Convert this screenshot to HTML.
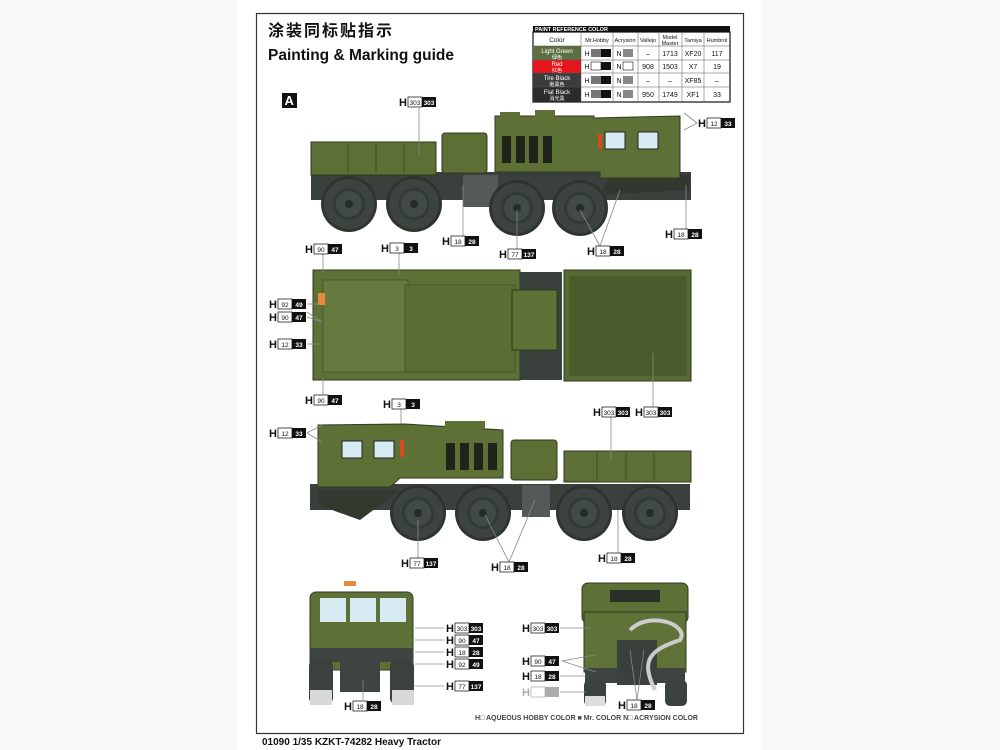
<!DOCTYPE html>
<html><head><meta charset="utf-8"><style>
html,body{margin:0;padding:0;background:#f8f8f7;}
svg{display:block;font-family:"Liberation Sans","Noto Sans CJK SC",sans-serif;}
</style></head><body>
<svg width="1000" height="750" viewBox="0 0 1000 750" xmlns="http://www.w3.org/2000/svg">
<defs>
<g id="wheel"><circle r="28" fill="#2f3430"/><circle r="25" fill="#3d433e"/><circle r="16" fill="#333a36"/><circle r="13" fill="#414a45"/><circle r="4" fill="#262b28"/></g>
<g id="lbl"><text x="0" y="4" font-size="11" font-weight="bold" fill="#111">H</text><rect x="9" y="-5" width="14" height="10" fill="#fff" stroke="#222" stroke-width="0.8"/><rect x="23" y="-5" width="14" height="10" fill="#111"/></g>
</defs>
<rect x="237" y="0" width="525" height="750" fill="#fff"/>
<rect x="256.5" y="13.5" width="487" height="720" fill="none" stroke="#333" stroke-width="1.2"/>
<text x="268" y="36" font-size="16" font-weight="bold" fill="#111" letter-spacing="2">涂装同标贴指示</text>
<text x="268" y="60" font-size="15.5" font-weight="bold" fill="#111">Painting &amp; Marking guide</text>
<rect x="282" y="93" width="15" height="15" fill="#111"/><text x="284.5" y="105" font-size="13" font-weight="bold" fill="#fff">A</text>

<!-- table -->
<g font-size="6.5" text-anchor="middle" fill="#111">
<rect x="533" y="26" width="197" height="6" fill="#111"/><text x="535" y="31" text-anchor="start" font-size="5.5" fill="#fff" font-weight="bold">PAINT  REFERENCE COLOR</text>
<rect x="533" y="32" width="197" height="70" fill="#fff" stroke="#111" stroke-width="1.2"/>
<rect x="533" y="46" width="48" height="14" fill="#5f7040"/><rect x="533" y="60" width="48" height="13" fill="#e8151c"/><rect x="533" y="73" width="48" height="14" fill="#3c3c3c"/><rect x="533" y="87" width="48" height="15" fill="#2c2c2c"/>
<g stroke="#555" stroke-width="0.5"><line x1="581" y1="32" x2="581" y2="102"/><line x1="613" y1="32" x2="613" y2="102"/><line x1="638" y1="32" x2="638" y2="102"/><line x1="659" y1="32" x2="659" y2="102"/><line x1="682" y1="32" x2="682" y2="102"/><line x1="704" y1="32" x2="704" y2="102"/><line x1="533" y1="46" x2="730" y2="46"/><line x1="533" y1="60" x2="730" y2="60"/><line x1="533" y1="73" x2="730" y2="73"/><line x1="533" y1="87" x2="730" y2="87"/></g>
<text x="557" y="42">Color</text><text x="597" y="42" font-size="5.5">Mr.Hobby</text><text x="625" y="42" font-size="5.5">Acrysion</text><text x="648" y="42" font-size="5.5">Vallejo</text><text x="670" y="39" font-size="5.5">Model</text><text x="670" y="45" font-size="5.5">Master</text><text x="693" y="42" font-size="5.5">Tamiya</text><text x="717" y="42" font-size="5.5">Humbrol</text>
<g fill="#fff" font-size="6"><text x="557" y="53">Light Green</text><text x="557" y="59" font-size="5">绿色</text><text x="557" y="66">Red</text><text x="557" y="72" font-size="5">红色</text><text x="557" y="80">Tire Black</text><text x="557" y="86" font-size="5">胎黑色</text><text x="557" y="94">Flat Black</text><text x="557" y="100" font-size="5">消光黑</text></g>
<g font-size="7"><text x="648" y="56">–</text><text x="670" y="56">1713</text><text x="693" y="56">XF20</text><text x="717" y="56">117</text>
<text x="648" y="69">908</text><text x="670" y="69">1503</text><text x="693" y="69">X7</text><text x="717" y="69">19</text>
<text x="648" y="83">–</text><text x="670" y="83">–</text><text x="693" y="83">XF85</text><text x="717" y="83">–</text>
<text x="648" y="97">950</text><text x="670" y="97">1749</text><text x="693" y="97">XF1</text><text x="717" y="97">33</text>
<text x="587" y="56">H</text><text x="587" y="69">H</text><text x="587" y="83">H</text><text x="587" y="97">H</text>
<text x="619" y="56">N</text><text x="619" y="69">N</text><text x="619" y="83">N</text><text x="619" y="97">N</text></g>
<g><rect x="591" y="49" width="10" height="8" fill="#777"/><rect x="601" y="49" width="10" height="8" fill="#111"/><rect x="591" y="62" width="10" height="8" fill="#fff" stroke="#111" stroke-width=".6"/><rect x="601" y="62" width="10" height="8" fill="#111"/><rect x="591" y="76" width="10" height="8" fill="#777"/><rect x="601" y="76" width="10" height="8" fill="#111"/><rect x="591" y="90" width="10" height="8" fill="#777"/><rect x="601" y="90" width="10" height="8" fill="#111"/>
<rect x="623" y="49" width="10" height="8" fill="#888"/><rect x="623" y="62" width="10" height="8" fill="#fff" stroke="#111" stroke-width=".6"/><rect x="623" y="76" width="10" height="8" fill="#888"/><rect x="623" y="90" width="10" height="8" fill="#888"/></g>
</g>

<!-- side view 1 -->
<g>
<rect x="311" y="172" width="380" height="28" fill="#3a403c"/>
<polygon points="600,195 690,190 690,175 610,175" fill="#32382f"/>
<rect x="311" y="142" width="125" height="33" fill="#5c7036" stroke="#2e3a1c" stroke-width="1"/>
<g stroke="#3e4d25" stroke-width="1"><line x1="348" y1="144" x2="348" y2="172"/><line x1="376" y1="144" x2="376" y2="172"/><line x1="404" y1="144" x2="404" y2="172"/></g>
<rect x="442" y="133" width="45" height="40" rx="3" fill="#5c7036" stroke="#2e3a1c"/>
<rect x="463" y="175" width="35" height="32" fill="#545a5a"/>
<polygon points="495,116 594,116 594,118 680,116 680,178 600,178 600,172 495,172" fill="#5d7137" stroke="#2e3a1c"/>
<rect x="500" y="112" width="20" height="6" fill="#5d7137"/><rect x="535" y="110" width="20" height="8" fill="#5d7137"/>
<g fill="#1e2419"><rect x="502" y="136" width="9" height="27"/><rect x="516" y="136" width="9" height="27"/><rect x="529" y="136" width="9" height="27"/><rect x="543" y="136" width="9" height="27"/></g>
<rect x="605" y="132" width="20" height="17" fill="#d9ebf2" stroke="#222"/><rect x="638" y="132" width="20" height="17" fill="#d9ebf2" stroke="#222"/>
<rect x="598" y="134" width="4" height="15" fill="#d84a1c"/>
<use href="#wheel" x="349" y="204"/><use href="#wheel" x="414" y="204"/><use href="#wheel" x="517" y="208"/><use href="#wheel" x="580" y="208"/>
</g>

<!-- top view -->
<g>
<rect x="313" y="270" width="207" height="110" fill="#5d7137" stroke="#2e3a1c"/>
<rect x="323" y="280" width="85" height="92" fill="#647a3e" stroke="#3e4d25" stroke-width=".7"/>
<rect x="405" y="285" width="110" height="87" fill="#5a6d35" stroke="#3e4d25" stroke-width=".7"/>
<rect x="318" y="293" width="7" height="12" fill="#e98a3a"/>
<rect x="520" y="272" width="42" height="108" fill="#3a403c"/>
<rect x="512" y="290" width="45" height="60" fill="#5d7137" stroke="#2e3a1c"/>
<rect x="564" y="270" width="127" height="111" fill="#566a33" stroke="#2e3a1c"/>
<rect x="569" y="276" width="118" height="100" fill="#4a5c2c"/>
</g>

<!-- side view 2 -->
<g>
<rect x="310" y="484" width="380" height="26" fill="#3a403c"/>
<polygon points="318,490 400,490 360,520 318,505" fill="#33392f"/>
<polygon points="318,425 405,424 405,424 503,430 503,478 400,478 390,487 318,487" fill="#5d7137" stroke="#2e3a1c"/>
<rect x="445" y="421" width="40" height="8" fill="#5d7137"/>
<g fill="#1e2419"><rect x="446" y="443" width="9" height="27"/><rect x="460" y="443" width="9" height="27"/><rect x="474" y="443" width="9" height="27"/><rect x="488" y="443" width="9" height="27"/></g>
<rect x="342" y="441" width="20" height="17" fill="#d9ebf2" stroke="#222"/><rect x="374" y="441" width="20" height="17" fill="#d9ebf2" stroke="#222"/>
<rect x="400" y="440" width="4" height="17" fill="#d84a1c"/>
<rect x="511" y="440" width="46" height="40" rx="3" fill="#5c7036" stroke="#2e3a1c"/>
<rect x="522" y="485" width="28" height="32" fill="#545a5a"/>
<rect x="564" y="451" width="127" height="31" fill="#5c7036" stroke="#2e3a1c"/>
<g stroke="#3e4d25"><line x1="597" y1="453" x2="597" y2="480"/><line x1="626" y1="453" x2="626" y2="480"/><line x1="654" y1="453" x2="654" y2="480"/></g>
<use href="#wheel" x="418" y="513"/><use href="#wheel" x="483" y="513"/><use href="#wheel" x="584" y="513"/><use href="#wheel" x="650" y="513"/>
</g>

<!-- front view -->
<g>
<rect x="310" y="592" width="103" height="78" rx="6" fill="#5d7137" stroke="#2e3a1c"/>
<rect x="320" y="598" width="26" height="24" fill="#d9ebf2"/><rect x="350" y="598" width="26" height="24" fill="#d9ebf2"/><rect x="380" y="598" width="26" height="24" fill="#d9ebf2"/>
<rect x="344" y="581" width="12" height="5" fill="#e98a3a"/>
<rect x="310" y="648" width="103" height="14" fill="#3e4440"/>
<rect x="309" y="660" width="24" height="44" rx="6" fill="#3b413d"/><rect x="390" y="660" width="24" height="44" rx="6" fill="#3b413d"/>
<rect x="340" y="662" width="40" height="30" fill="#3e4440"/>
<rect x="310" y="690" width="22" height="15" fill="#d8d8d8"/><rect x="392" y="690" width="22" height="15" fill="#d8d8d8"/>
</g>

<!-- rear view -->
<g>
<rect x="582" y="583" width="106" height="40" rx="6" fill="#5d7137" stroke="#2e3a1c"/>
<rect x="610" y="590" width="50" height="12" fill="#2a2f28"/>
<rect x="584" y="612" width="102" height="60" fill="#5f7339" stroke="#2e3a1c"/>
<rect x="585" y="668" width="100" height="15" fill="#3e4440"/>
<rect x="617" y="640" width="40" height="45" fill="#3a403c"/>
<rect x="584" y="680" width="22" height="26" rx="5" fill="#3b413d"/><rect x="665" y="680" width="22" height="26" rx="5" fill="#3b413d"/>
<rect x="585" y="696" width="20" height="10" fill="#ddd"/>
<path d="M630 630 C650 610 690 625 680 640 C650 650 640 660 655 690" stroke="#ccc" stroke-width="4" fill="none"/>
</g>

<!-- leader lines -->
<g stroke="#888" stroke-width="0.8" fill="none">
<line x1="419" y1="108" x2="419" y2="155"/><polyline points="684,113 697,123 684,130"/><line x1="686" y1="185" x2="686" y2="230"/>
<line x1="463" y1="185" x2="463" y2="236"/><line x1="517" y1="210" x2="517" y2="249"/><polyline points="580,210 600,246 620,190"/>
<line x1="323" y1="254" x2="323" y2="272"/><line x1="399" y1="253" x2="399" y2="275"/><line x1="307" y1="304" x2="320" y2="304"/><polyline points="307,317 322,322 307,312"/><line x1="307" y1="344" x2="322" y2="344"/><line x1="323" y1="378" x2="323" y2="395"/><line x1="653" y1="353" x2="653" y2="407"/><line x1="611" y1="417" x2="611" y2="460"/>
<line x1="401" y1="409" x2="401" y2="424"/><polyline points="322,425 307,433 322,442"/><line x1="418" y1="520" x2="418" y2="558"/><polyline points="485,515 509,562 535,500"/><line x1="618" y1="510" x2="618" y2="553"/>
<line x1="415" y1="628" x2="444" y2="628"/><line x1="415" y1="640" x2="444" y2="640"/><line x1="415" y1="652" x2="444" y2="652"/><line x1="415" y1="664" x2="444" y2="664"/><line x1="415" y1="686" x2="444" y2="686"/><line x1="363" y1="680" x2="363" y2="700"/>
<line x1="560" y1="628" x2="590" y2="628"/><polyline points="595,655 562,661 596,672"/><line x1="560" y1="676" x2="586" y2="676"/><line x1="560" y1="692" x2="586" y2="692"/><polyline points="630,650 637,700 644,650"/>
</g>

<!-- labels -->
<g>
<use href="#lbl" x="399" y="102"/><use href="#lbl" x="698" y="123"/><use href="#lbl" x="665" y="234"/><use href="#lbl" x="442" y="241"/><use href="#lbl" x="499" y="254"/><use href="#lbl" x="587" y="251"/>
<use href="#lbl" x="305" y="249"/><use href="#lbl" x="381" y="248"/><use href="#lbl" x="269" y="304"/><use href="#lbl" x="269" y="317"/><use href="#lbl" x="269" y="344"/><use href="#lbl" x="305" y="400"/><use href="#lbl" x="593" y="412"/><use href="#lbl" x="635" y="412"/>
<use href="#lbl" x="383" y="404"/><use href="#lbl" x="269" y="433"/><use href="#lbl" x="401" y="563"/><use href="#lbl" x="491" y="567"/><use href="#lbl" x="598" y="558"/>
<use href="#lbl" x="446" y="628"/><use href="#lbl" x="446" y="640"/><use href="#lbl" x="446" y="652"/><use href="#lbl" x="446" y="664"/><use href="#lbl" x="446" y="686"/><use href="#lbl" x="344" y="706"/>
<use href="#lbl" x="522" y="628"/><use href="#lbl" x="522" y="661"/><use href="#lbl" x="522" y="676"/><use href="#lbl" x="522" y="692" opacity="0.35"/><use href="#lbl" x="618" y="705"/>
</g>
<g text-anchor="middle" fill="#fff" font-size="6.5" font-weight="bold">
<text x="429" y="105">303</text><text x="728" y="126">33</text><text x="695" y="237">28</text><text x="472" y="244">28</text><text x="529" y="257">137</text><text x="617" y="254">28</text>
<text x="335" y="252">47</text><text x="411" y="251">3</text><text x="299" y="307">49</text><text x="299" y="320">47</text><text x="299" y="347">33</text><text x="335" y="403">47</text><text x="623" y="415">303</text><text x="665" y="415">303</text>
<text x="413" y="407">3</text><text x="299" y="436">33</text><text x="431" y="566">137</text><text x="521" y="570">28</text><text x="628" y="561">28</text>
<text x="476" y="631">303</text><text x="476" y="643">47</text><text x="476" y="655">28</text><text x="476" y="667">49</text><text x="476" y="689">137</text><text x="374" y="709">28</text>
<text x="552" y="631">303</text><text x="552" y="664">47</text><text x="552" y="679">28</text><text x="648" y="708">28</text>
</g>
<g text-anchor="middle" fill="#111" font-size="6.5">
<text x="415" y="105">303</text><text x="714" y="126">12</text><text x="681" y="237">18</text><text x="458" y="244">18</text><text x="515" y="257">77</text><text x="603" y="254">18</text>
<text x="321" y="252">90</text><text x="397" y="251">3</text><text x="285" y="307">92</text><text x="285" y="320">90</text><text x="285" y="347">12</text><text x="321" y="403">90</text><text x="609" y="415">303</text><text x="651" y="415">303</text>
<text x="399" y="407">3</text><text x="285" y="436">12</text><text x="417" y="566">77</text><text x="507" y="570">18</text><text x="614" y="561">18</text>
<text x="462" y="631">303</text><text x="462" y="643">90</text><text x="462" y="655">18</text><text x="462" y="667">92</text><text x="462" y="689">77</text><text x="360" y="709">18</text>
<text x="538" y="631">303</text><text x="538" y="664">90</text><text x="538" y="679">18</text><text x="634" y="708">18</text>
</g>
<text x="475" y="720" font-size="7" font-weight="bold" fill="#444">H□ AQUEOUS HOBBY COLOR    ■ Mr. COLOR    N□ ACRYSION COLOR</text>
<text x="262" y="745" font-size="10" font-weight="bold" fill="#111">01090 1/35 KZKT-74282 Heavy Tractor</text>
</svg>
</body></html>
